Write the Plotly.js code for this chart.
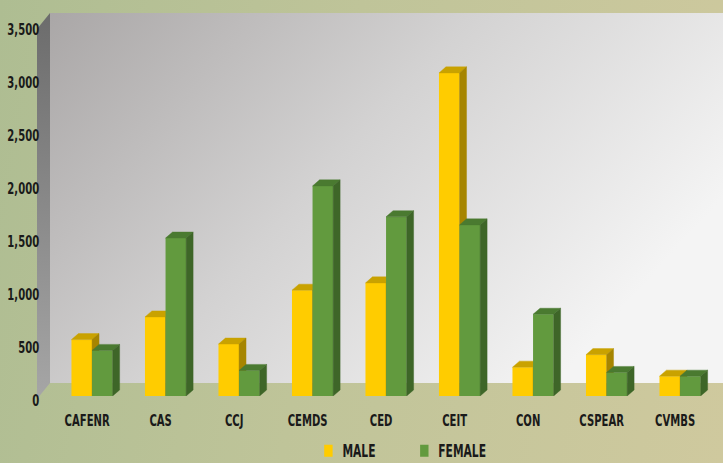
<!DOCTYPE html>
<html><head><meta charset="utf-8">
<script src="https://cdn.plot.ly/plotly-3.0.1.min.js"></script>
<style>
html,body{margin:0;padding:0;width:723px;height:463px;overflow:hidden;}
body{background:linear-gradient(100deg,#aebd92 0%,#bfc499 45%,#cfc99e 100%);position:relative;}
#bg{position:absolute;left:0;top:0;}
#chart{position:absolute;left:0;top:0;width:1033px;height:463px;transform:scaleX(0.7);transform-origin:0 0;}
</style></head><body>
<svg id="bg" width="723" height="463">
<defs>
<linearGradient id="wall" x1="0" y1="0" x2="1" y2="0.5">
<stop offset="0" stop-color="#aaa7a7"/><stop offset="0.5" stop-color="#d3d2d2"/><stop offset="1" stop-color="#f4f4f4"/>
</linearGradient>
<linearGradient id="side" x1="0" y1="0" x2="0" y2="1">
<stop offset="0" stop-color="#6c6c6c"/><stop offset="1" stop-color="#a6a6a6"/>
</linearGradient>
</defs>
<rect x="50" y="13" width="673" height="370" fill="url(#wall)"/>
<polygon points="37,29 50,13 50,383 37,399" fill="url(#side)"/>
</svg>
<div id="chart"></div>
<script>
const categories = ['CAFENR','CAS','CCJ','CEMDS','CED','CEIT','CON','CSPEAR','CVMBS'];
const maleValues = [532, 746, 490, 998, 1067, 3048, 272, 390, 187];
const femaleValues = [430, 1490, 241, 1982, 1691, 1614, 771, 222, 187];
const seriesNames = ['MALE', 'FEMALE'];
const yTicks = [0, 500, 1000, 1500, 2000, 2500, 3000, 3500];

const BW = 0.28, D = 0.095, H = 57;
const FONT = '"Liberation Sans Narrow", "Arial Narrow", "DejaVu Sans Condensed", sans-serif';

function barSet(vals, name, offset, front, top, side, xa, ya) {
  const idx = vals.map((_, i) => i);
  const tx = [], ty = [], sx = [], sy = [];
  vals.forEach((v, i) => {
    const xl = i + offset - BW / 2, xr = i + offset + BW / 2;
    tx.push(xl, xl + D, xr + D, xr, xl, null);
    ty.push(v, v + H, v + H, v, v, null);
    sx.push(xr, xr + D, xr + D, xr, xr, null);
    sy.push(0, H, v + H, v, 0, null);
  });
  return [
    {type: 'bar', name: name, x: idx.map(i => i + offset), y: vals, width: BW,
     marker: {color: front, line: {width: 0}}, xaxis: xa, yaxis: ya, hoverinfo: 'skip'},
    {type: 'scatter', mode: 'lines', x: tx, y: ty, fill: 'toself', fillcolor: top,
     line: {color: top, width: 0.5}, showlegend: false, xaxis: xa, yaxis: ya, hoverinfo: 'skip'},
    {type: 'scatter', mode: 'lines', x: sx, y: sy, fill: 'toself', fillcolor: side,
     line: {color: side, width: 0.5}, showlegend: false, xaxis: xa, yaxis: ya, hoverinfo: 'skip'}
  ];
}

const traces = [
  ...barSet(maleValues, seriesNames[0], -BW / 2, '#FFCC00', '#C9A200', '#A68500', 'x', 'y'),
  ...barSet(femaleValues, seriesNames[1], BW / 2, '#629A3E', '#4A7A30', '#3E6628', 'x2', 'y2')
];

const xr = [-0.5, categories.length - 0.5];
const yr = [0, 3500];
const layout = {
  width: 1033, height: 463,
  margin: {l: 79, r: 9, t: 25, b: 67, autoexpand: false},
  paper_bgcolor: 'rgba(0,0,0,0)', plot_bgcolor: 'rgba(0,0,0,0)',
  font: {family: FONT, size: 16, color: '#1a1a1a', weight: 700},
  barmode: 'overlay',
  showlegend: true,
  xaxis: {range: xr, tickmode: 'array', tickvals: categories.map((_, i) => i), ticktext: categories,
          showgrid: false, zeroline: false, showline: false, ticks: '', fixedrange: true,
          ticklabelstandoff: 13, ticklabelshift: -7, tickfont: {size: 16, family: FONT, weight: 700}},
  yaxis: {range: yr, tickmode: 'array', tickvals: yTicks, tickformat: ',d',
          showgrid: false, zeroline: false, showline: false, ticks: '', fixedrange: true,
          ticklabelstandoff: 22, ticklabelshift: 4, tickfont: {size: 16, family: FONT, weight: 700}},
  xaxis2: {range: xr, overlaying: 'x', visible: false, fixedrange: true},
  yaxis2: {range: yr, overlaying: 'y', visible: false, fixedrange: true},
  legend: {orientation: 'h', x: 0.3917, xanchor: 'left', y: -0.149, yanchor: 'middle',
           entrywidth: 92, entrywidthmode: 'pixels',
           font: {size: 17, family: FONT, weight: 700, color: '#1a1a1a'},
           bgcolor: 'rgba(0,0,0,0)', traceorder: 'normal'}
};

Plotly.newPlot('chart', traces, layout, {displayModeBar: false, staticPlot: true});
</script>
</body></html>
